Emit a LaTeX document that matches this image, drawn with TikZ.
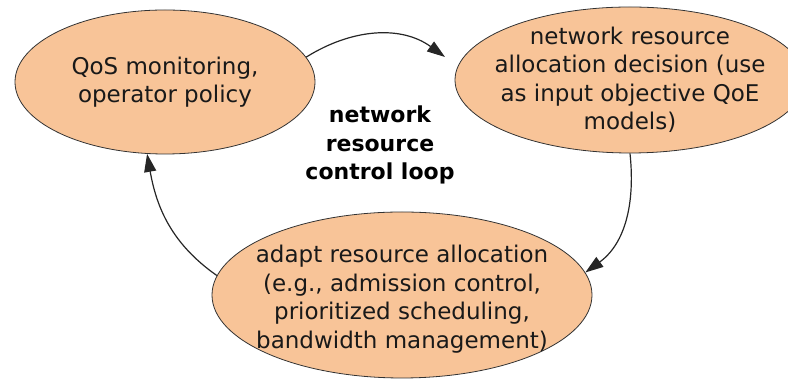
\documentclass[tikz,border=0pt]{standalone}
\usepackage{fontspec}
\setmainfont{DejaVu Sans}
\usetikzlibrary{shapes.geometric,arrows.meta}
\definecolor{peach}{RGB}{248,196,152}

\begin{document}
\begin{tikzpicture}[x=1pt,y=1pt,
  state/.style={ellipse,draw=black!80,fill=peach,line width=0.8pt,inner sep=0pt},
  statetext/.style={align=center,text=black!90,font=\fontsize{23}{28.5}\selectfont},
  loopedge/.style={draw=black!85,line width=1.2pt,-{Triangle[length=18pt,width=12pt]}}]
\useasboundingbox (0,0) rectangle (788,379);

\node[state,minimum width=300pt,minimum height=144pt,
  label={[statetext]center:QoS monitoring,\\operator policy}] (qos) at (165,297) {};
\node[state,minimum width=350pt,minimum height=146pt,
  label={[statetext]center:network resource\\allocation decision (use\\as input objective QoE\\models)}] (decide) at (630,299) {};
\node[state,minimum width=380pt,minimum height=166pt,
  label={[statetext,yshift=-4pt]center:adapt resource allocation\\(e.g., admission control,\\prioritized scheduling,\\bandwidth management)}] (adapt) at (402,84) {};

\node[align=center,font=\bfseries\fontsize{22}{28.5}\selectfont] (title) at (380,234)
  {network\\resource\\control loop};

% the loop
\coordinate (decidein) at (445,322);
\draw[loopedge] (qos.10) to[out=32,in=144] (decidein);
\draw[loopedge] (decide.south) to[out=-84,in=36] (adapt.7);
\draw[loopedge] (adapt.174) to[out=145,in=-80] (qos.-104);

\end{tikzpicture}
\end{document}
